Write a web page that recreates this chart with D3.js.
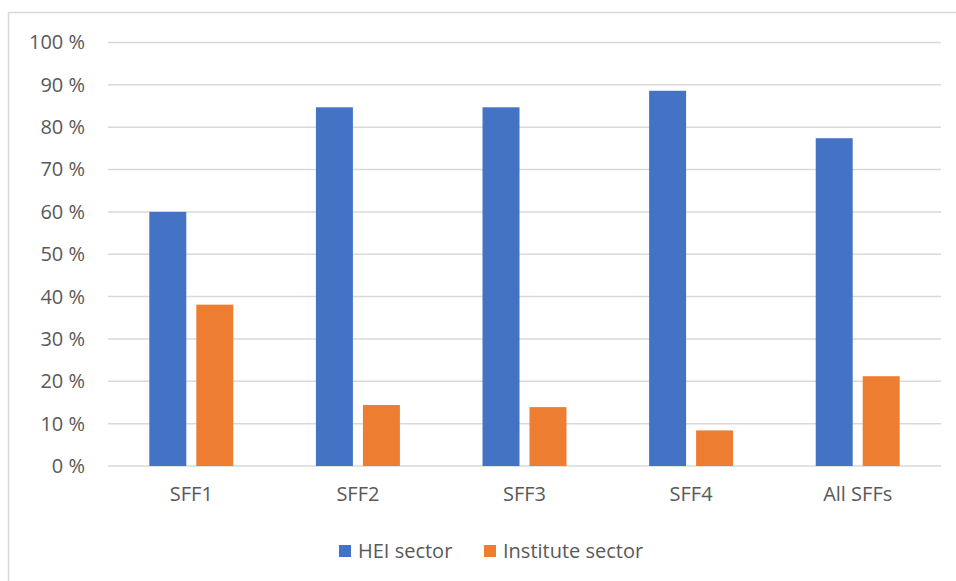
<!DOCTYPE html>
<html><head><meta charset="utf-8">
<script src="https://cdn.jsdelivr.net/npm/d3@7"></script>
<style>body{margin:0;background:#fff}svg{display:block;font-family:"Open Sans",Lato,sans-serif}</style>
</head><body><svg id="c" width="956" height="581"></svg>
<script>
const categories = ["SFF1","SFF2","SFF3","SFF4","All SFFs"];
const seriesNames = ["HEI sector","Institute sector"];
const heiValues = [60, 84.7, 84.7, 88.6, 77.4];
const instituteValues = [38.1, 14.4, 13.9, 8.4, 21.2];
const yTicks = [0,10,20,30,40,50,60,70,80,90,100];
const colors = ["#4472c4","#ed7d31"];

const svg = d3.select("#c");
svg.append("rect").attr("x",8.5).attr("y",12.5).attr("width",960).attr("height",600)
  .attr("fill","#fff").attr("stroke","#d9d9d9").attr("stroke-width",1.5);

const L=108, R=941, T=42.5, B=466;
const x = d3.scaleBand().domain(categories).range([L,R]);
const y = d3.scaleLinear().domain([0,100]).range([B,T]);
const bw = x.bandwidth()*0.222, gap = x.bandwidth()*0.06;

const yAxis = d3.axisLeft(y).tickValues(yTicks).tickFormat(d=>d+" %").tickSize(0).tickPadding(23);
const gy = svg.append("g").attr("transform",`translate(${L},0)`).call(yAxis);
gy.select(".domain").remove();
gy.selectAll("text").attr("fill","#595959").style("font-size","20px").style("font-family","'Open Sans',sans-serif");
svg.append("g").selectAll("line").data(yTicks).join("line")
  .attr("x1",L).attr("x2",R).attr("y1",d=>y(d)).attr("y2",d=>y(d))
  .attr("stroke","#d9d9d9").attr("stroke-width",1.5);

const data = categories.map((c,i)=>({c, v:[heiValues[i], instituteValues[i]]}));
const g = svg.append("g");
data.forEach(d=>{
  const cx = x(d.c)+x.bandwidth()/2;
  d.v.forEach((v,j)=>{
    const x0 = j===0 ? cx-gap/2-bw : cx+gap/2;
    g.append("rect").attr("x",x0).attr("width",bw).attr("y",y(v)).attr("height",B-y(v))
      .attr("fill",colors[j]);
  });
});

const xAxis = d3.axisBottom(x).tickSize(0).tickPadding(21);
const gx = svg.append("g").attr("transform",`translate(0,${B})`).call(xAxis);
gx.select(".domain").remove();
gx.selectAll("text").attr("fill","#595959").style("font-size","20px").style("font-family","'Open Sans',sans-serif");

const leg = svg.append("g");
const legX = [339, 484];
seriesNames.forEach((n,i)=>{
  leg.append("rect").attr("x",legX[i]).attr("y",545).attr("width",12).attr("height",12).attr("fill",colors[i]);
  leg.append("text").attr("x",legX[i]+19).attr("y",551).attr("dy","0.35em")
    .attr("fill","#595959").style("font-size","20px").text(n);
});
</script></body></html>
